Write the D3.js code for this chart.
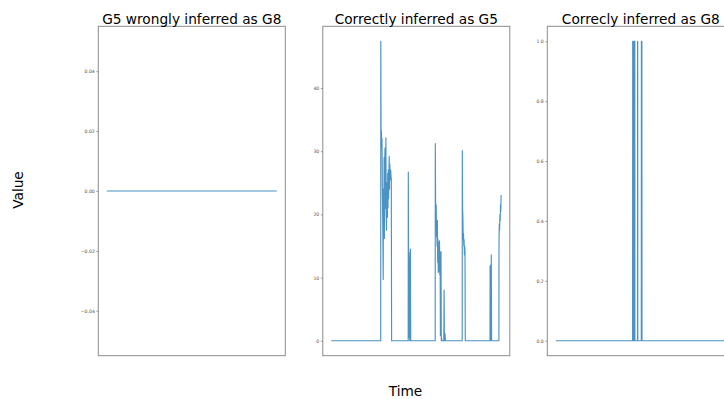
<!DOCTYPE html>
<html>
<head>
<meta charset="utf-8">
<script src="https://cdn.jsdelivr.net/npm/d3@7"></script>
<style>
  html, body { margin: 0; padding: 0; background: #fff; }
  svg { display: block; }
  text { font-family: "DejaVu Sans", sans-serif; }
</style>
</head>
<body>
<svg id="chart" width="724" height="399"></svg>
<script>
// ---- Data ----
const titles = ["G5 wrongly inferred as G8", "Correctly inferred as G5", "Correcly inferred as G8"];

const time1 = [0, 170];
const value1 = [0, 0];

const time2 = [0, 49.4,
  49.5, 49.8, 50.1, 50.4, 50.7, 51.0, 51.3, 51.6, 51.9, 52.2, 52.5, 52.8, 53.1, 53.4, 53.7, 54.0,
  54.3, 54.6, 54.9, 55.2, 55.5, 55.8, 56.1, 56.4, 56.7, 57.0, 57.3, 57.6, 57.9, 58.2, 58.5, 58.8,
  59.1, 59.4, 59.7, 60.0, 60.3,
  76.9, 77.0, 77.3, 77.6, 77.9, 78.2, 78.5, 78.8, 79.1, 79.4,
  103.9, 104.0, 104.3, 104.6, 104.9, 105.2, 105.5, 105.8, 106.1, 106.4, 106.7, 107.0, 107.3, 107.6,
  107.9, 108.2, 108.5, 108.8, 109.1, 109.4, 109.7, 110.0, 110.3, 110.6, 112.5, 112.8, 113.1, 113.8, 114.1,
  130.9, 131.0, 131.3, 131.6, 131.9, 132.2, 132.5, 132.8, 133.1, 133.4, 133.7, 134.0,
  158.7, 158.8, 159.1, 159.4, 159.7, 160.0, 160.3,
  167.6, 167.7, 168.0, 168.3, 168.6, 168.9, 169.2, 169.5, 169.8, 170.0];
const value2 = [0, 0,
  47.4, 31.0, 33.2, 30.5, 32.0, 25.0, 20.5, 16.5, 9.7, 24.0, 18.0, 29.0, 16.2, 28.0, 30.5, 21.0,
  24.5, 32.1, 20.0, 17.5, 25.0, 22.0, 19.5, 26.5, 21.0, 27.0, 22.5, 25.5, 29.2, 24.0, 28.0, 26.0,
  25.5, 27.0, 26.0, 25.6, 0,
  0, 26.7, 12.0, 14.0, 0.5, 6.0, 0, 13.0, 14.5, 0,
  0, 31.2, 22.0, 20.0, 21.5, 16.5, 18.0, 15.0, 19.0, 12.4, 16.0, 10.8, 15.5, 11.0,
  14.8, 15.8, 10.5, 14.0, 0.8, 5.0, 14.1, 0, 0.5, 0, 0, 8.0, 0, 1.1, 0,
  0, 30.1, 21.0, 19.5, 16.0, 17.0, 15.0, 16.0, 13.6, 15.0, 14.0, 0,
  0, 11.8, 3.0, 12.0, 0, 13.6, 0,
  0, 15.5, 18.5, 17.5, 20.0, 19.0, 21.5, 20.5, 23.0, 22.8];

const time3 = [0, 76.8, 76.9, 77.6, 77.7, 78.3, 78.4, 79.0, 79.1, 81.7, 81.8, 81.9, 82.0, 85.5, 85.6, 86.1, 86.2, 170];
const value3 = [0, 0, 1, 1, 0, 0, 1, 1, 0, 0, 1, 1, 0, 0, 1, 1, 0, 0];

const ticks1 = [-0.04, -0.02, 0.00, 0.02, 0.04];
const ticks2 = [0, 10, 20, 30, 40];
const ticks3 = [0.0, 0.2, 0.4, 0.6, 0.8, 1.0];

// ---- Layout ----
const svg = d3.select("#chart");
const axW = 187, axTop = 26.3, axBot = 355.7;
const lefts = [98.3, 322.8, 547.3];
const color = "#1f77b4";

const panels = [
  {t: time1, v: value1, ticks: ticks1, fmt: d3.format(".2f"), ydom: [-0.055, 0.055]},
  {t: time2, v: value2, ticks: ticks2, fmt: d3.format("d"), ydom: null},
  {t: time3, v: value3, ticks: ticks3, fmt: d3.format(".1f"), ydom: null}
];

panels.forEach((p, i) => {
  const left = lefts[i];
  const xe = d3.extent(p.t);
  const xpad = (xe[1] - xe[0]) * 0.05;
  const x = d3.scaleLinear().domain([xe[0] - xpad, xe[1] + xpad]).range([left, left + axW]);
  let ydom = p.ydom;
  if (!ydom) {
    const ye = d3.extent(p.v);
    const ypad = (ye[1] - ye[0]) * 0.05;
    ydom = [ye[0] - ypad, ye[1] + ypad];
  }
  const y = d3.scaleLinear().domain(ydom).range([axBot, axTop]);

  const g = svg.append("g");

  const pts = p.t.map((t, k) => [t, p.v[k]]);
  g.append("path")
    .datum(pts)
    .attr("fill", "none")
    .attr("stroke", color)
    .attr("stroke-opacity", 0.8)
    .attr("stroke-width", 1.15)
    .attr("stroke-linejoin", "round")
    .attr("d", d3.line().x(d => x(d[0])).y(d => y(d[1])));

  g.append("rect")
    .attr("x", left).attr("y", axTop)
    .attr("width", axW).attr("height", axBot - axTop)
    .attr("fill", "none").attr("stroke", "#8c8c8c").attr("stroke-width", 1);

  const ax = g.append("g")
    .attr("transform", `translate(${left},0)`)
    .call(d3.axisLeft(y).tickValues(p.ticks).tickFormat(p.fmt).tickSize(2).tickPadding(1.5));
  ax.select(".domain").remove();
  ax.selectAll(".tick line").attr("stroke", "#666").attr("stroke-width", 0.6);
  ax.selectAll(".tick text")
    .attr("fill", "#555")
    .style("font-size", "4.6px")
    .style("font-family", "'DejaVu Sans', sans-serif");

  svg.append("text")
    .attr("x", left + axW / 2).attr("y", 24)
    .attr("text-anchor", "middle")
    .style("font-size", "13.7px")
    .attr("fill", "#000")
    .text(titles[i]);
});

svg.append("text")
  .attr("x", 405.5).attr("y", 396)
  .attr("text-anchor", "middle")
  .style("font-size", "13.7px")
  .text("Time");

svg.append("text")
  .attr("transform", "translate(23,190) rotate(-90)")
  .attr("text-anchor", "middle")
  .style("font-size", "13.7px")
  .text("Value");
</script>
</body>
</html>
